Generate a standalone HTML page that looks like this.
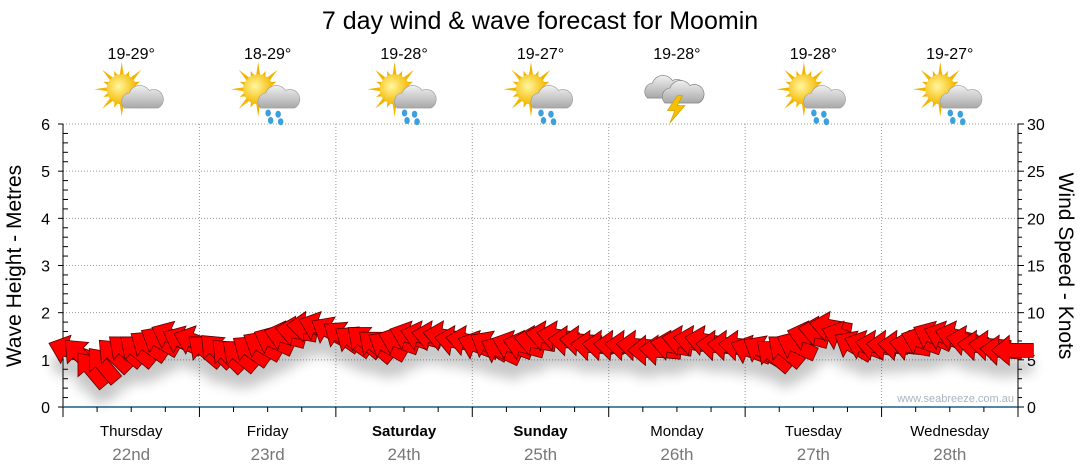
<!DOCTYPE html>
<html><head><meta charset="utf-8">
<style>
body{margin:0;background:#fff;width:1080px;height:475px;overflow:hidden;font-family:"Liberation Sans",sans-serif}
svg{display:block}
</style></head>
<body>
<svg id="chart" width="1080" height="475" viewBox="0 0 1080 475" xmlns="http://www.w3.org/2000/svg">
<defs>
<filter id="shadow" x="-10%" y="-50%" width="120%" height="250%"><feGaussianBlur stdDeviation="6"/></filter>
<radialGradient id="sunG" cx="40%" cy="40%" r="60%"><stop offset="0" stop-color="#fff7a0"/><stop offset="1" stop-color="#f5b800"/></radialGradient>
<linearGradient id="cloudG" x1="0" y1="0" x2="0" y2="1"><stop offset="0" stop-color="#f0f0f0"/><stop offset="1" stop-color="#a8a8a8"/></linearGradient>
</defs>
<text x="540" y="29" text-anchor="middle" font-size="25" fill="#000">7 day wind &amp; wave forecast for Moomin</text>
<g id="grid"></g>
<g id="axes"></g>
<g id="icons"></g>
<g id="shadowG" filter="url(#shadow)" opacity="0.22" transform="translate(0,16)"></g>
<g id="arrows"></g>
<text transform="translate(21,266) rotate(-90)" text-anchor="middle" font-size="21" fill="#000">Wave Height - Metres</text>
<text transform="translate(1059,266) rotate(90)" text-anchor="middle" font-size="21" fill="#000">Wind Speed - Knots</text>
<text x="1014" y="402" text-anchor="end" font-size="11" fill="#a9b3c0">www.seabreeze.com.au</text>
</svg>
<script>
const days = ["Thursday","Friday","Saturday","Sunday","Monday","Tuesday","Wednesday"];
const dates = ["22nd","23rd","24th","25th","26th","27th","28th"];
const boldDays = [false,false,true,true,false,false,false];
const temps = ["19-29°","18-29°","19-28°","19-27°","19-28°","19-28°","19-27°"];
const icons = ["cloud","rain","rain","rain","storm","rain","rain"];
const leftTicks = [0,1,2,3,4,5,6];
const rightTicks = [0,5,10,15,20,25,30];
const windSpeed = [
6,5.5,4,4.5,5.5,6,6,6.5,7,7.5,7,7,
6,6,5.5,5.5,6,6.5,7,7.5,8,8.5,8.5,8,
7.5,7,7,6.5,6.5,7,7.5,7.5,7.5,7.5,7,7,
6.5,6.5,6,6.5,6.5,7,7.5,7.5,7,7,6.5,6.5,
6.5,6.5,6.5,6,6,6.5,7,7,7,6.5,6.5,6.5,
6,6,5.5,6,6.5,7.5,8,8.5,7.5,6.5,6.5,6.5,
6.5,6.5,6.5,7,7.5,7.5,7.5,7,6.5,6.5,6,6];
const windDir = [
110,135,140,140,135,130,130,125,120,115,115,110,
130,135,135,130,125,120,115,105,100,95,110,120,
125,125,130,130,120,110,110,105,100,100,100,100,
110,120,115,110,105,100,100,100,95,95,95,95,
95,95,95,90,95,100,100,100,100,95,95,95,
110,120,130,130,115,105,100,100,110,120,110,100,
95,95,100,110,115,110,105,100,95,95,95,90];

const NS="http://www.w3.org/2000/svg";
const X0=63,X1=1018,Y0=407,Y1=124;
const dayW=(X1-X0)/7;
const xDay=d=>X0+d*dayW;
const yM=v=>Y0-(v/6)*(Y0-Y1);
const yK=v=>Y0-(v/30)*(Y0-Y1);
function mk(tag,attrs,parent,txt){const e=document.createElementNS(NS,tag);for(const k in attrs)e.setAttribute(k,attrs[k]);if(txt!==undefined)e.textContent=txt;parent.appendChild(e);return e;}
const grid=document.getElementById('grid'),axes=document.getElementById('axes');
leftTicks.forEach(v=>{if(v>0){const l=mk('line',{x1:X0,x2:X1,y1:yM(v),y2:yM(v),stroke:'#999','stroke-dasharray':'1,2'},grid);

}});
for(let d=1;d<7;d++){const l=mk('line',{x1:xDay(d),x2:xDay(d),y1:Y1,y2:Y0,stroke:'#999','stroke-dasharray':'1,2'},grid);

}
mk('line',{x1:X0,x2:X0,y1:Y1,y2:Y0+1,stroke:'#000'},axes);
mk('line',{x1:X1,x2:X1,y1:Y1,y2:Y0+1,stroke:'#000'},axes);
for(let i=0;i<=30;i++){const y=Y0-i/30*(Y0-Y1);const maj=i%5==0;
mk('line',{x1:X0,x2:X0+(maj?0:5),y1:y,y2:y,stroke:'#000'},axes);
mk('line',{x1:X0-(maj?5:0),x2:X0,y1:y,y2:y,stroke:'#000'},axes);
mk('line',{x1:X1,x2:X1+(maj?6:4),y1:y,y2:y,stroke:'#000'},axes);}
leftTicks.forEach(v=>{const t=mk('text',{x:50,y:yM(v)+6,'text-anchor':'end','font-size':16,fill:'#000'},axes,v);

});
rightTicks.forEach(v=>{const t=mk('text',{x:1027,y:yK(v)+6,'text-anchor':'start','font-size':16,fill:'#000'},axes,v);

});
mk('line',{x1:X0,x2:X1,y1:Y0,y2:Y0,stroke:'#1b5f85','stroke-width':1.5},axes);
for(let i=0;i<=28;i++){const x=X0+i*dayW/4;const maj=i%4==0;mk('line',{x1:x,x2:x,y1:Y0,y2:Y0+(maj?10:5),stroke:'#000'},axes);}
days.forEach((d,i)=>{const cx=xDay(i)+dayW/2;
const t=mk('text',{x:cx,y:436,'text-anchor':'middle','font-size':15,'font-weight':boldDays[i]?'bold':'normal',fill:'#000'},axes,d);


const t2=mk('text',{x:cx,y:460,'text-anchor':'middle','font-size':17,fill:'#777'},axes,dates[i]);


const t3=mk('text',{x:cx,y:59,'text-anchor':'middle','font-size':16,fill:'#000'},document.getElementById('icons'),temps[i]);


drawIcon(cx-2,93,icons[i]);});
function drawIcon(cx,cy,type){const g=mk('g',{transform:`translate(${cx},${cy}) scale(1.25)`},document.getElementById('icons'));


if(type!=='storm'){for(let a=0;a<16;a++){const r=a*Math.PI/8;const L=a%2?16:22;mk('polygon',{points:`${-6+Math.cos(r-0.15)*11},${-3+Math.sin(r-0.15)*11} ${-6+Math.cos(r)*L},${-3+Math.sin(r)*L} ${-6+Math.cos(r+0.15)*11},${-3+Math.sin(r+0.15)*11}`,fill:'#f2b400'},g);}
mk('circle',{cx:-6,cy:-3,r:12,fill:'url(#sunG)'},g);
mk('path',{d:'M-4,12 a7,7 0 0 1 4,-12 a9,9 0 0 1 16,-2 a7,7 0 0 1 7,14 z',fill:'url(#cloudG)',stroke:'#999','stroke-width':0.5},g);}
else{mk('path',{d:'M-22,4 a7,7 0 0 1 4,-12 a9,9 0 0 1 16,-2 a7,7 0 0 1 7,14 z',fill:'url(#cloudG)',stroke:'#777','stroke-width':0.5},g);
mk('path',{d:'M-8,8 a7,7 0 0 1 4,-12 a9,9 0 0 1 16,-2 a7,7 0 0 1 7,14 z',fill:'url(#cloudG)',stroke:'#777','stroke-width':0.5},g);
mk('polygon',{points:'2,2 -6,14 0,14 -4,24 8,10 2,10 6,2',fill:'#f5c000',stroke:'#c90','stroke-width':0.5},g);}
if(type==='rain'){[[2,16],[10,17],[4,22],[12,23]].forEach(p=>mk('ellipse',{cx:p[0],cy:p[1],rx:2.2,ry:2.8,fill:'#3aa0e0'},g));}}
const arrows=document.getElementById('arrows'),sh=document.getElementById('shadowG');
const n=windSpeed.length;
const arrowPts='-21,0 -3,-15 -3,-7 21,-7 21,7 -3,7 -3,15';
for(let i=0;i<n;i++){const x=X0+(i+0.5)*(X1-X0)/n;const y=yK(windSpeed[i]);
const B=windDir[i]+180;const vx=Math.sin(B*Math.PI/180),vy=-Math.cos(B*Math.PI/180);
const ang=Math.atan2(vy,vx)*180/Math.PI+180;
const s=mk('polygon',{points:arrowPts,transform:`translate(${x},${y}) rotate(${ang})`,fill:'#000'},sh);


const p=mk('polygon',{points:arrowPts,transform:`translate(${x},${y}) rotate(${ang})`,fill:'#ff0000',stroke:'#5a0000','stroke-width':0.8},arrows);

}
</script>
</body></html>
